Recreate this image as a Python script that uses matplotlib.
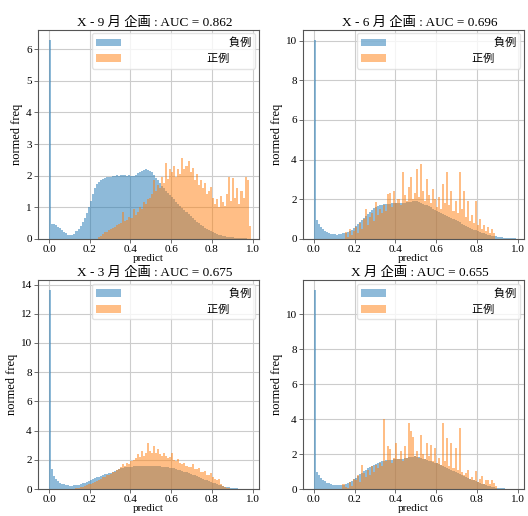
import numpy as np
import matplotlib
matplotlib.use("Agg")
import matplotlib.pyplot as plt

plt.rcParams['font.family'] = ['Liberation Serif', 'Noto Sans CJK JP']

# --- datos: altura normalizada de cada bin (100 bins de 0.01 entre 0 y 1) ---
titles = ["X - 9 月 企画 : AUC = 0.862",
          "X - 6 月 企画 : AUC = 0.696",
          "X - 3 月 企画 : AUC = 0.675",
          "X 月 企画 : AUC = 0.655"]
neg_label = "負例"
pos_label = "正例"

neg_9 = [6.3, 0.48, 0.45, 0.42, 0.38, 0.33, 0.28, 0.22, 0.17, 0.13,
         0.11, 0.12, 0.16, 0.23, 0.31, 0.4, 0.52, 0.66, 0.82, 1.0,
         1.2, 1.42, 1.6, 1.72, 1.8, 1.86, 1.9, 1.93, 1.95, 1.96,
         1.97, 1.98, 2.0, 2.01, 2.0, 2.02, 2.01, 2.02, 2.0, 2.01,
         1.98, 2.0, 2.03, 2.07, 2.1, 2.13, 2.18, 2.2, 2.17, 2.14,
         2.1, 2.02, 1.92, 1.85, 1.76, 1.68, 1.6, 1.52, 1.45, 1.38,
         1.32, 1.25, 1.17, 1.1, 1.03, 0.96, 0.9, 0.83, 0.77, 0.71,
         0.65, 0.6, 0.54, 0.49, 0.44, 0.39, 0.35, 0.31, 0.27, 0.23,
         0.2, 0.17, 0.15, 0.13, 0.11, 0.09, 0.08, 0.06, 0.05, 0.04,
         0.04, 0.03, 0.02, 0.02, 0.01, 0.01, 0.01, 0.0, 0.0, 0.0]
pos_9 = [0] * 24 + [
         0.05, 0.1, 0.15, 0.2, 0.22, 0.28,
         0.3, 0.35, 0.38, 0.42, 0.45, 0.5, 0.85, 0.55, 0.6, 0.7,
         0.65, 0.95, 0.75, 0.85, 1.0, 0.95, 1.15, 1.1, 1.25, 1.3,
         1.4, 1.85, 1.5, 1.7, 1.6, 1.95, 1.75, 2.4, 1.9, 2.2,
         2.1, 2.3, 1.95, 2.2, 2.05, 2.57, 2.2, 2.3, 2.45, 2.1,
         2.25, 1.85, 2.05, 1.7, 1.85, 1.6, 1.75, 1.4, 1.5, 1.65,
         1.3, 1.1, 1.25, 1.0, 1.35, 1.15, 1.05, 1.4, 1.97, 1.2,
         1.92, 1.3, 1.6, 1.1, 1.5, 1.3, 1.97, 1.85, 0.4, 0.0]

neg_6 = [10.05, 0.95, 0.72, 0.57, 0.47, 0.4, 0.34, 0.3, 0.26, 0.24,
         0.22, 0.21, 0.22, 0.24, 0.27, 0.3, 0.35, 0.4, 0.46, 0.55,
         0.64, 0.74, 0.84, 0.94, 1.04, 1.14, 1.25, 1.35, 1.45, 1.53,
         1.58, 1.63, 1.68, 1.71, 1.73, 1.75, 1.76, 1.77, 1.78, 1.79,
         1.8, 1.8, 1.81, 1.81, 1.82, 1.83, 1.85, 1.87, 1.88, 1.9,
         1.89, 1.85, 1.8, 1.76, 1.72, 1.68, 1.63, 1.58, 1.52, 1.47,
         1.42, 1.37, 1.32, 1.27, 1.22, 1.17, 1.11, 1.05, 0.99, 0.93,
         0.88, 0.82, 0.76, 0.7, 0.65, 0.6, 0.55, 0.5, 0.46, 0.42,
         0.38, 0.34, 0.3, 0.27, 0.24, 0.21, 0.18, 0.15, 0.13, 0.11,
         0.09, 0.08, 0.06, 0.05, 0.04, 0.03, 0.02, 0.01, 0.01, 0.0]
pos_6 = [0] * 15 + [
         0.35, 0.1, 0.5, 0.2, 0.4,
         0.6, 0.3, 0.8, 0.5, 1.0, 1.5, 0.7, 1.1, 1.3, 0.9,
         1.83, 1.2, 1.5, 1.3, 1.7, 1.4, 2.25, 2.3, 1.6, 2.4,
         1.8, 2.0, 1.7, 3.35, 2.2, 1.9, 2.6, 3.1, 2.0, 2.3,
         3.5, 2.1, 3.8, 2.4, 1.9, 3.0, 2.2, 1.8, 2.5, 2.0,
         1.6, 2.1, 1.5, 2.75, 1.8, 3.35, 1.7, 2.4, 1.4, 1.9,
         1.3, 3.35, 1.5, 2.4, 1.1, 1.9, 0.9, 1.2, 0.8, 1.9,
         0.7, 0.97, 0.5, 0.7, 0.4, 0.6, 0.3, 0.5, 0.3] + [0] * 11

neg_3 = [13.6, 1.37, 0.92, 0.68, 0.53, 0.43, 0.37, 0.32, 0.29, 0.27,
         0.25, 0.25, 0.26, 0.28, 0.31, 0.35, 0.39, 0.43, 0.48, 0.55,
         0.62, 0.68, 0.74, 0.8, 0.86, 0.91, 0.96, 1.01, 1.06, 1.1,
         1.14, 1.2, 1.26, 1.32, 1.38, 1.43, 1.47, 1.5, 1.52, 1.54,
         1.55, 1.56, 1.57, 1.58, 1.59, 1.6, 1.6, 1.6, 1.61, 1.6,
         1.6, 1.6, 1.59, 1.58, 1.57, 1.55, 1.53, 1.51, 1.49, 1.47,
         1.45, 1.42, 1.38, 1.34, 1.29, 1.25, 1.2, 1.15, 1.1, 1.05,
         1.0, 0.94, 0.88, 0.82, 0.76, 0.7, 0.65, 0.6, 0.55, 0.5,
         0.45, 0.4, 0.35, 0.31, 0.26, 0.22, 0.18, 0.15, 0.12, 0.1,
         0.08, 0.06, 0.05, 0.04, 0.03, 0.03, 0.02, 0.01, 0.01, 0.0]
pos_3 = [0] * 13 + [
         0.05, 0.1, 0.12, 0.18, 0.22, 0.28, 0.32,
         0.38, 0.45, 0.5, 0.58, 0.62, 0.7, 0.8, 0.85, 0.95, 1.0,
         1.05, 1.15, 1.2, 1.3, 1.35, 1.5, 1.7, 1.6, 1.8, 1.75,
         1.9, 2.0, 2.16, 2.4, 2.2, 2.6, 2.3, 2.5, 3.13, 2.6,
         2.5, 2.97, 2.5, 2.74, 2.4, 2.3, 2.5, 2.28, 2.1, 2.2,
         2.5, 2.0, 1.9, 2.05, 1.8, 1.75, 1.8, 1.6, 1.55, 1.5,
         1.7, 1.4, 1.35, 1.47, 1.2, 1.15, 1.24, 1.0, 0.95, 1.13,
         0.8, 0.7, 0.6, 0.67, 0.35, 0.25, 0.18, 0.1, 0.05] + [0] * 11

neg_0 = [11.35, 1.0, 0.8, 0.62, 0.52, 0.45, 0.38, 0.33, 0.29, 0.26,
         0.24, 0.23, 0.22, 0.23, 0.25, 0.29, 0.34, 0.4, 0.47, 0.56,
         0.66, 0.75, 0.84, 0.93, 1.02, 1.1, 1.18, 1.26, 1.33, 1.39,
         1.45, 1.5, 1.55, 1.59, 1.62, 1.65, 1.67, 1.68, 1.69, 1.7,
         1.71, 1.72, 1.73, 1.75, 1.77, 1.79, 1.81, 1.84, 1.86, 1.88,
         1.86, 1.82, 1.78, 1.74, 1.7, 1.67, 1.63, 1.59, 1.55, 1.51,
         1.48, 1.43, 1.37, 1.31, 1.26, 1.2, 1.15, 1.1, 1.05, 1.0,
         0.95, 0.89, 0.83, 0.77, 0.71, 0.65, 0.6, 0.55, 0.5, 0.45,
         0.4, 0.36, 0.32, 0.28, 0.24, 0.2, 0.17, 0.14, 0.11, 0.09,
         0.08, 0.06, 0.05, 0.04, 0.03, 0.03, 0.02, 0.01, 0.01, 0.0]
pos_0 = [0] * 14 + [
         0.3, 0.15, 0.05, 0.4, 0.2, 0.6,
         0.5, 0.8, 0.4, 1.37, 0.9, 0.7, 1.1, 0.8, 1.3, 1.0,
         1.4, 1.2, 1.5, 1.3, 4.0, 1.6, 2.46, 2.27, 1.5, 1.8,
         2.65, 1.7, 2.17, 1.6, 2.46, 1.8, 3.8, 3.3, 3.0, 1.9,
         2.2, 1.8, 3.1, 2.0, 1.7, 2.65, 1.9, 2.55, 1.6, 2.36,
         1.5, 1.8, 1.4, 3.75, 1.6, 2.9, 1.3, 2.65, 1.2, 2.36,
         1.1, 3.5, 1.0, 0.8, 0.9, 1.12, 0.6, 0.7, 0.5, 1.03,
         0.4, 0.6, 0.74, 0.3, 0.5, 0.55, 0.3, 0.55, 0.36, 0.2] + [0] * 10

neg_series = [neg_9, neg_6, neg_3, neg_0]
pos_series = [pos_9, pos_6, pos_3, pos_0]

edges = np.linspace(0, 1, 101)

fig, axes = plt.subplots(2, 2, figsize=(5.28, 5.16), dpi=100)
fig.subplots_adjust(left=0.072, right=0.992, top=0.942, bottom=0.052,
                    wspace=0.2, hspace=0.2)

for ax, title, neg, pos in zip(axes.flat, titles, neg_series, pos_series):
    ax.bar(edges[:-1], neg, width=0.01, align='edge', color='#1f77b4',
           alpha=0.5, linewidth=0, label=" " * 36 + neg_label)
    ax.bar(edges[:-1], pos, width=0.01, align='edge', color='#ff7f0e',
           alpha=0.5, linewidth=0, label=" " * 28 + pos_label)
    ax.set_xlim(-0.054, 1.03)
    ax.set_xticks([0, 0.2, 0.4, 0.6, 0.8, 1.0])
    ax.set_title(title, fontsize=9.5, pad=3, x=0.53)
    ax.set_xlabel("predict", fontsize=8, labelpad=0)
    ax.set_ylabel("normed freq", fontsize=9, labelpad=2)
    ax.tick_params(labelsize=8, length=3, width=0.6, color='#555555', pad=1.5)
    ax.grid(True, color='#cccccc', linewidth=0.8)
    ax.set_axisbelow(True)
    for s in ax.spines.values():
        s.set_color('#555555')
        s.set_linewidth(0.8)
    ax.legend(loc='upper right', fontsize=8, handlelength=2.2,
              borderaxespad=0.3, framealpha=0.8, edgecolor='#dddddd')

fig.savefig("out.png")
